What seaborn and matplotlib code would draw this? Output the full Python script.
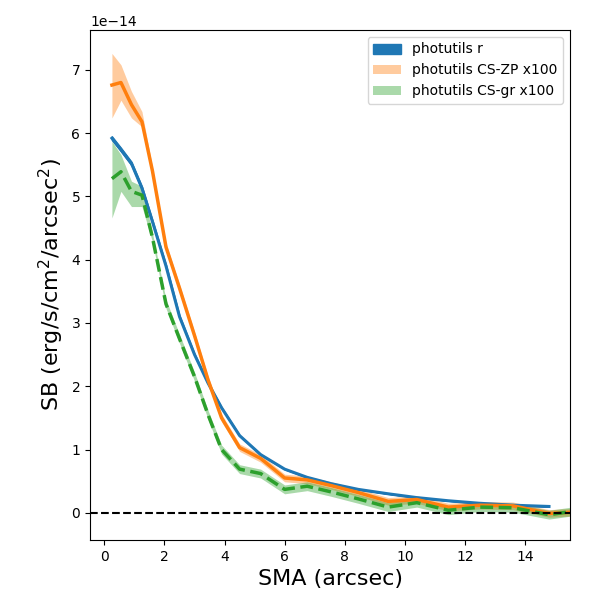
import numpy as np
import pandas as pd
import matplotlib
matplotlib.use('Agg')
import matplotlib.pyplot as plt
import seaborn as sns

# SMA 값 (arcsec)
sma = [0.25, 0.55, 0.9, 1.25, 1.6, 2.05, 2.5, 3.0, 3.45, 3.9, 4.5, 5.2,
       6.0, 6.75, 7.55, 8.45, 9.45, 10.4, 11.45, 12.5, 13.6, 14.8, 16.0]

# 표면밝기 (단위 1e-14)
sb_r = [5.92, 5.74, 5.52, 5.13, 4.6, 3.9, 3.1, 2.5, 2.05, 1.66, 1.22, 0.92,
        0.69, 0.56, 0.46, 0.37, 0.30, 0.24, 0.19, 0.15, 0.12, 0.10]
sb_zp = [6.76, 6.80, 6.45, 6.18, 5.4, 4.2, 3.55, 2.8, 2.1, 1.5, 1.03, 0.86,
         0.55, 0.52, 0.43, 0.32, 0.18, 0.21, 0.09, 0.12, 0.11, -0.01, 0.02]
zp_hi = [7.26, 7.08, 6.66, 6.34, 5.46, 4.26, 3.61, 2.86, 2.16, 1.56, 1.09, 0.92,
         0.61, 0.58, 0.49, 0.38, 0.24, 0.27, 0.15, 0.18, 0.17, 0.05, 0.08]
zp_lo = [6.24, 6.52, 6.24, 6.10, 5.34, 4.14, 3.49, 2.74, 2.04, 1.44, 0.97, 0.80,
         0.49, 0.46, 0.37, 0.26, 0.12, 0.15, 0.03, 0.06, 0.05, -0.07, -0.04]
sb_gr = [5.28, 5.39, 5.08, 5.02, 4.35, 3.3, 2.75, 2.15, 1.55, 1.0, 0.69, 0.62,
         0.37, 0.42, 0.33, 0.22, 0.09, 0.16, 0.04, 0.09, 0.08, -0.03, 0.05]
gr_hi = [5.87, 5.66, 5.24, 5.16, 4.42, 3.37, 2.82, 2.22, 1.62, 1.07, 0.76, 0.69,
         0.44, 0.49, 0.40, 0.29, 0.16, 0.23, 0.11, 0.16, 0.15, 0.04, 0.12]
gr_lo = [4.66, 5.08, 4.84, 4.84, 4.28, 3.23, 2.68, 2.08, 1.48, 0.93, 0.62, 0.55,
         0.30, 0.35, 0.26, 0.15, 0.02, 0.09, -0.03, 0.02, 0.01, -0.10, -0.02]

scale = 1e-14
df_r = pd.DataFrame({'sma': sma[:len(sb_r)], 'sb': np.array(sb_r) * scale})
df_cs = pd.DataFrame({'sma': sma,
                      'zp': np.array(sb_zp) * scale,
                      'zp_hi': np.array(zp_hi) * scale,
                      'zp_lo': np.array(zp_lo) * scale,
                      'gr': np.array(sb_gr) * scale,
                      'gr_hi': np.array(gr_hi) * scale,
                      'gr_lo': np.array(gr_lo) * scale})

c = sns.color_palette('tab10')
fig, ax = plt.subplots(figsize=(6, 6), dpi=100)

ax.fill_between(df_r['sma'], df_r['sb'] * 0.995, df_r['sb'] * 1.005,
                color=c[0], alpha=1, label='photutils r')
sns.lineplot(data=df_r, x='sma', y='sb', color=c[0], lw=2.2, ax=ax)

ax.fill_between(df_cs['sma'], df_cs['zp_lo'], df_cs['zp_hi'],
                color=c[1], alpha=0.4, lw=0, label='photutils CS-ZP x100')
sns.lineplot(data=df_cs, x='sma', y='zp', color=c[1], lw=2.5, ax=ax)

ax.fill_between(df_cs['sma'], df_cs['gr_lo'], df_cs['gr_hi'],
                color=c[2], alpha=0.4, lw=0, label='photutils CS-gr x100')
sns.lineplot(data=df_cs, x='sma', y='gr', color=c[2], lw=2.5, ls='--', ax=ax)

ax.axhline(0, color='k', ls='--', lw=1.5)

ax.set_xlim(-0.48, 15.5)
ax.set_ylim(-0.43e-14, 7.63e-14)
ax.set_xlabel('SMA (arcsec)', fontsize=16)
ax.set_ylabel('SB (erg/s/cm$^2$/arcsec$^2$)', fontsize=16)
ax.legend(loc='upper right')

plt.subplots_adjust(left=0.15, right=0.95, top=0.95, bottom=0.1)
plt.savefig('out.png')
